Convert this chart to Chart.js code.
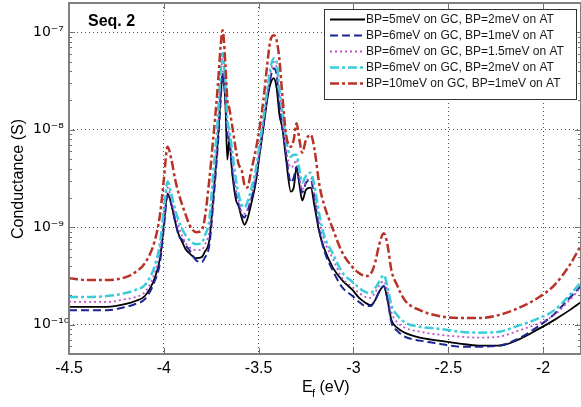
<!DOCTYPE html>
<html>
<head>
<meta charset="utf-8">
<script src="https://cdn.jsdelivr.net/npm/chart.js@4.4.1/dist/chart.umd.min.js"></script>
<style>
	html, body { margin: 0; padding: 0; background: #fff; }
	#wrap { width: 581px; height: 407px; position: relative; }
</style>
</head>
<body>
<div id="wrap"><canvas id="conductanceChart"></canvas></div>
<script>
// data: Fermi energy (eV)
const energy = [-4.5, -4.4, -4.3, -4.2, -4.15, -4.1, -4.05, -4.02, -4.0, -3.98, -3.96, -3.94, -3.92, -3.9, -3.885, -3.865, -3.83, -3.8, -3.785, -3.76, -3.74, -3.715, -3.7, -3.69, -3.675, -3.665, -3.655, -3.64, -3.62, -3.605, -3.59, -3.575, -3.56, -3.54, -3.515, -3.495, -3.475, -3.455, -3.44, -3.42, -3.405, -3.39, -3.375, -3.355, -3.33, -3.315, -3.3, -3.285, -3.27, -3.25, -3.225, -3.205, -3.18, -3.155, -3.11, -3.06, -3.005, -2.97, -2.935, -2.91, -2.885, -2.865, -2.84, -2.82, -2.8, -2.77, -2.73, -2.65, -2.55, -2.44, -2.34, -2.23, -2.13, -2.02, -1.94, -1.86, -1.8];

// conductance (S) for each broadening combination
const gc5at2 = [1.52e-10, 1.52e-10, 1.52e-10, 1.63e-10, 1.75e-10, 1.97e-10, 2.94e-10, 4.82e-10, 1.06e-9, 2.21e-9, 1.71e-9, 1.14e-9, 8.28e-10, 6.86e-10, 5.95e-10, 5.42e-10, 4.82e-10, 4.93e-10, 5.55e-10, 7.36e-10, 1.92e-9, 7.90e-9, 2.27e-8, 3.63e-8, 1.79e-8, 4.93e-9, 7.90e-9, 3.72e-9, 1.92e-9, 1.63e-9, 1.26e-9, 1.06e-9, 1.20e-9, 1.71e-9, 2.87e-9, 5.55e-9, 1.04e-8, 2.01e-8, 2.87e-8, 3.38e-8, 2.67e-8, 1.41e-8, 1.04e-8, 4.93e-9, 2.32e-9, 2.55e-9, 4.08e-9, 2.74e-9, 1.88e-9, 2.43e-9, 2.55e-9, 1.63e-9, 8.89e-10, 6.10e-10, 3.90e-10, 2.87e-10, 2.27e-10, 1.88e-10, 1.67e-10, 1.59e-10, 1.79e-10, 2.16e-10, 2.49e-10, 1.79e-10, 1.12e-10, 9.32e-11, 8.28e-11, 7.36e-11, 6.86e-11, 6.39e-11, 6.10e-11, 6.10e-11, 7.02e-11, 9.10e-11, 1.12e-10, 1.41e-10, 1.71e-10];
const gc6at1 = [1.41e-10, 1.41e-10, 1.41e-10, 1.52e-10, 1.63e-10, 1.83e-10, 2.74e-10, 4.38e-10, 9.77e-10, 2.11e-9, 1.71e-9, 1.14e-9, 8.09e-10, 7.36e-10, 6.54e-10, 5.82e-10, 4.59e-10, 4.38e-10, 4.82e-10, 6.54e-10, 1.71e-9, 7.02e-9, 2.01e-8, 3.90e-8, 2.01e-8, 8.89e-9, 7.90e-9, 3.90e-9, 2.16e-9, 1.71e-9, 1.35e-9, 1.26e-9, 1.45e-9, 1.92e-9, 3.08e-9, 5.95e-9, 1.12e-8, 2.16e-8, 3.23e-8, 4.28e-8, 3.63e-8, 1.79e-8, 1.12e-8, 5.55e-9, 2.87e-9, 3.23e-9, 4.18e-9, 2.94e-9, 2.27e-9, 2.87e-9, 3.08e-9, 1.92e-9, 9.32e-10, 5.82e-10, 3.63e-10, 2.43e-10, 1.97e-10, 1.71e-10, 1.55e-10, 1.55e-10, 1.79e-10, 2.16e-10, 2.49e-10, 1.79e-10, 1.06e-10, 8.68e-11, 7.54e-11, 6.86e-11, 6.39e-11, 5.95e-11, 5.95e-11, 6.10e-11, 7.19e-11, 9.77e-11, 1.29e-10, 1.88e-10, 2.49e-10];
const gc6at15 = [1.71e-10, 1.71e-10, 1.71e-10, 1.83e-10, 1.92e-10, 2.16e-10, 3.30e-10, 5.82e-10, 1.26e-9, 2.55e-9, 1.92e-9, 1.35e-9, 9.77e-10, 7.90e-10, 6.86e-10, 6.24e-10, 5.82e-10, 5.82e-10, 6.54e-10, 9.32e-10, 2.43e-9, 1.0e-8, 3.23e-8, 5.42e-8, 2.55e-8, 1.12e-8, 8.89e-9, 4.93e-9, 2.43e-9, 1.92e-9, 1.45e-9, 1.38e-9, 1.52e-9, 2.16e-9, 3.46e-9, 6.24e-9, 1.20e-8, 2.27e-8, 3.63e-8, 4.93e-8, 4.28e-8, 2.27e-8, 1.26e-8, 6.24e-9, 4.08e-9, 4.38e-9, 4.93e-9, 3.23e-9, 2.43e-9, 2.94e-9, 3.23e-9, 2.16e-9, 1.14e-9, 7.36e-10, 4.82e-10, 3.01e-10, 2.43e-10, 2.11e-10, 1.92e-10, 1.88e-10, 2.16e-10, 2.49e-10, 2.80e-10, 2.16e-10, 1.35e-10, 1.06e-10, 9.32e-11, 8.48e-11, 7.90e-11, 7.54e-11, 7.36e-11, 7.54e-11, 8.68e-11, 1.04e-10, 1.26e-10, 1.79e-10, 2.43e-10];
const gc6at2 = [1.92e-10, 1.92e-10, 1.97e-10, 2.11e-10, 2.27e-10, 2.55e-10, 3.90e-10, 6.86e-10, 1.52e-9, 2.94e-9, 2.16e-9, 1.52e-9, 1.14e-9, 9.32e-10, 8.28e-10, 7.36e-10, 6.70e-10, 6.86e-10, 8.09e-10, 1.20e-9, 3.46e-9, 1.32e-8, 4.08e-8, 6.10e-8, 2.87e-8, 1.26e-8, 1.0e-8, 6.24e-9, 3.08e-9, 2.16e-9, 1.71e-9, 1.59e-9, 1.79e-9, 2.43e-9, 3.90e-9, 7.02e-9, 1.32e-8, 2.55e-8, 4.08e-8, 5.42e-8, 4.93e-8, 2.55e-8, 1.59e-8, 7.90e-9, 5.29e-9, 5.55e-9, 5.55e-9, 3.90e-9, 2.87e-9, 3.38e-9, 3.63e-9, 2.61e-9, 1.35e-9, 8.28e-10, 5.42e-10, 3.46e-10, 2.74e-10, 2.38e-10, 2.16e-10, 2.11e-10, 2.38e-10, 2.74e-10, 3.23e-10, 2.43e-10, 1.59e-10, 1.26e-10, 1.06e-10, 9.54e-11, 9.10e-11, 8.48e-11, 8.28e-11, 8.48e-11, 9.77e-11, 1.17e-10, 1.41e-10, 2.01e-10, 2.74e-10];
const gc10at1 = [3.0e-10, 2.87e-10, 2.87e-10, 3.08e-10, 3.46e-10, 4.28e-10, 7.02e-10, 1.35e-9, 3.08e-9, 6.70e-9, 4.93e-9, 3.08e-9, 2.16e-9, 1.63e-9, 1.35e-9, 1.06e-9, 8.89e-10, 9.32e-10, 1.20e-9, 3.08e-9, 7.90e-9, 2.87e-8, 7.36e-8, 1.05e-7, 4.59e-8, 2.01e-8, 1.67e-8, 1.12e-8, 6.24e-9, 4.38e-9, 3.90e-9, 2.74e-9, 2.55e-9, 3.72e-9, 6.24e-9, 1.04e-8, 2.01e-8, 4.59e-8, 7.90e-8, 9.32e-8, 8.28e-8, 5.17e-8, 2.27e-8, 8.89e-9, 6.70e-9, 7.90e-9, 1.17e-8, 7.90e-9, 5.82e-9, 7.90e-9, 8.89e-9, 6.24e-9, 2.74e-9, 1.71e-9, 9.77e-10, 5.55e-10, 3.90e-10, 3.38e-10, 3.15e-10, 3.30e-10, 4.38e-10, 6.54e-10, 8.68e-10, 6.54e-10, 3.63e-10, 2.55e-10, 1.79e-10, 1.41e-10, 1.23e-10, 1.17e-10, 1.17e-10, 1.26e-10, 1.48e-10, 1.92e-10, 2.55e-10, 4.08e-10, 6.54e-10];

const seriesLabels = [
	"BP=5meV on GC, BP=2meV on AT",
	"BP=6meV on GC, BP=1meV on AT",
	"BP=6meV on GC, BP=1.5meV on AT",
	"BP=6meV on GC, BP=2meV on AT",
	"BP=10meV on GC, BP=1meV on AT",
];
const xTicks = [-4.5, -4, -3.5, -3, -2.5, -2];
const yTicks = [1e-10, 1e-9, 1e-8, 1e-7];

const sup = { "-": "\u207B", 0: "\u2070", 1: "\u00B9", 2: "\u00B2", 3: "\u00B3", 4: "\u2074", 5: "\u2075", 6: "\u2076", 7: "\u2077", 8: "\u2078", 9: "\u2079" };
function powLabel(v) {
	const e = String(Math.round(Math.log10(v)));
	return "10" + e.split("").map((c) => sup[c]).join("");
}

function points(values) {
	return energy.map((e, i) => ({ x: e, y: values[i] }));
}

function lineSet(label, values, color, dash, width, order) {
	return {
		label: label,
		data: points(values),
		borderColor: color,
		borderDash: dash,
		borderWidth: width,
		pointRadius: 0,
		fill: false,
		cubicInterpolationMode: "monotone",
		order: order,
	};
}

// axes box, inner ticks, legend and labels
const framePlugin = {
	id: "frame",
	afterDraw(chart) {
		const { ctx, chartArea: a, scales } = chart;
		const x = scales.x;
		const y = scales.y;
		ctx.save();

		ctx.strokeStyle = "#707070";
		ctx.lineWidth = 1;
		ctx.beginPath();
		xTicks.forEach((v) => {
			const px = Math.round(x.getPixelForValue(v)) + 0.5;
			ctx.moveTo(px, a.bottom);
			ctx.lineTo(px, a.bottom - 6);
			ctx.moveTo(px, a.top);
			ctx.lineTo(px, a.top + 6);
		});
		for (let e = -11; e <= -7; e++) {
			for (let m = 1; m <= 9; m++) {
				const v = m * Math.pow(10, e);
				if (v < y.min || v > y.max) continue;
				const py = Math.round(y.getPixelForValue(v)) + 0.5;
				const len = m === 1 ? 6 : 3;
				ctx.moveTo(a.left, py);
				ctx.lineTo(a.left + len, py);
				ctx.moveTo(a.right, py);
				ctx.lineTo(a.right - len, py);
			}
		}
		ctx.stroke();

		ctx.strokeStyle = "#808080";
		ctx.lineWidth = 2;
		ctx.strokeRect(a.left, a.top, a.right - a.left, a.bottom - a.top);

		// legend
		const lx = 324, ly = 9, lw = 252, lh = 90;
		ctx.fillStyle = "#fff";
		ctx.fillRect(lx, ly, lw, lh);
		ctx.strokeStyle = "#333";
		ctx.lineWidth = 1;
		ctx.strokeRect(lx + 0.5, ly + 0.5, lw, lh);
		ctx.font = "12px 'Liberation Sans', Arial, sans-serif";
		ctx.textBaseline = "middle";
		ctx.textAlign = "left";
		chart.data.datasets.forEach((ds, i) => {
			const ry = 19.5 + 16 * i;
			ctx.save();
			ctx.strokeStyle = ds.borderColor;
			ctx.lineWidth = ds.borderWidth;
			ctx.setLineDash(ds.borderDash);
			ctx.beginPath();
			ctx.moveTo(330, ry);
			ctx.lineTo(365, ry);
			ctx.stroke();
			ctx.restore();
			ctx.fillStyle = "#1a1a1a";
			ctx.fillText(ds.label, 366, ry);
		});

		// titles
		ctx.fillStyle = "#000";
		ctx.font = "bold 16px 'Liberation Sans', Arial, sans-serif";
		ctx.textBaseline = "alphabetic";
		ctx.fillText("Seq. 2", 88, 26);

		ctx.font = "16px 'Liberation Sans', Arial, sans-serif";
		ctx.fillText("E", 302, 392);
		ctx.font = "11px 'Liberation Sans', Arial, sans-serif";
		ctx.fillText("f", 312, 397);
		ctx.font = "16px 'Liberation Sans', Arial, sans-serif";
		ctx.fillText(" (eV)", 315, 392);

		ctx.translate(19, 179);
		ctx.rotate(-Math.PI / 2);
		ctx.textAlign = "center";
		ctx.textBaseline = "middle";
		ctx.fillText("Conductance (S)", 0, 0);
		ctx.restore();
	},
};

const ctxEl = document.getElementById("conductanceChart");
var conductanceChart = new Chart(ctxEl, {
	type: "line",
	data: {
		datasets: [
			lineSet(seriesLabels[0], gc5at2, "#000000", [], 1.8, 5),
			lineSet(seriesLabels[1], gc6at1, "#1c2590", [8, 4], 2, 4),
			lineSet(seriesLabels[2], gc6at15, "#c050c8", [2, 3], 1.8, 3),
			lineSet(seriesLabels[3], gc6at2, "#3ccbdb", [9, 3, 3, 3], 2.5, 2),
			lineSet(seriesLabels[4], gc10at1, "#b83228", [9, 3, 3, 3], 2.5, 1),
		],
	},
	plugins: [framePlugin],
	options: {
		responsive: true,
		maintainAspectRatio: false,
		animation: false,
		layout: { padding: { top: 3, left: 33, right: 0, bottom: 0 } },
		plugins: {
			legend: { display: false },
			tooltip: { enabled: false },
		},
		scales: {
			x: {
				type: "linear",
				min: -4.5,
				max: -1.8,
				afterBuildTicks: (s) => {
					s.ticks = xTicks.map((v) => ({ value: v }));
				},
				afterFit: (s) => {
					s.height = 53;
					s.paddingLeft = 0;
					s.paddingRight = 0;
				},
				ticks: {
					color: "#000",
					padding: 5,
					maxRotation: 0,
					font: { family: "'Liberation Sans', Arial, sans-serif", size: 16 },
					callback: (v) => String(v),
				},
				grid: { color: "#555", drawTicks: false },
				border: { display: false, dash: [1, 3] },
			},
			y: {
				type: "logarithmic",
				min: 5e-11,
				max: 2e-7,
				afterBuildTicks: (s) => {
					s.ticks = yTicks.map((v) => ({ value: v }));
				},
				afterFit: (s) => {
					s.width = 36;
					s.paddingTop = 0;
					s.paddingBottom = 0;
				},
				ticks: {
					color: "#000",
					crossAlign: "far",
					font: { family: "'DejaVu Sans', sans-serif", size: 14 },
					callback: (v) => powLabel(v),
				},
				grid: { color: "#555", drawTicks: false },
				border: { display: false, dash: [1, 3] },
			},
		},
	},
});
</script>
</body>
</html>
